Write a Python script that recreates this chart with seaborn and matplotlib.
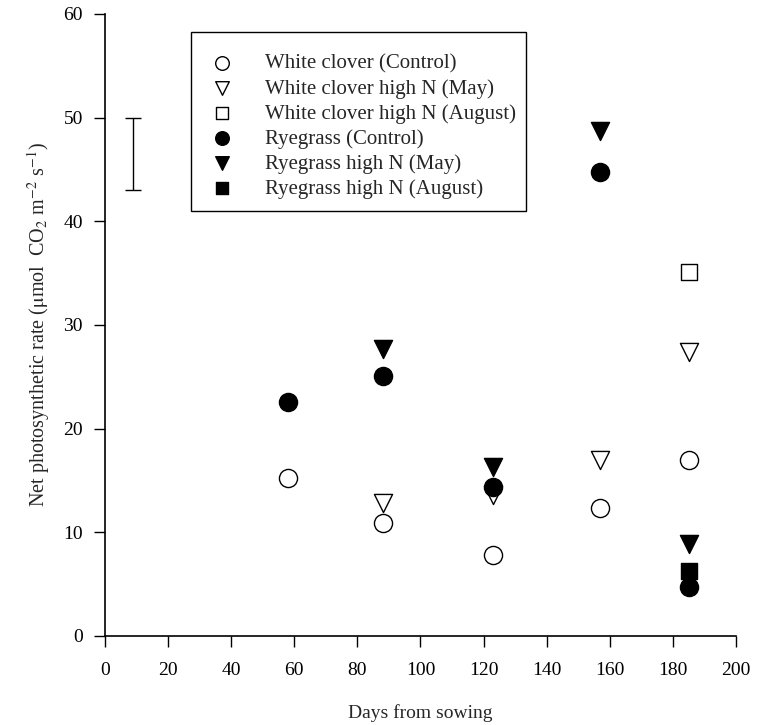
import numpy as np
import pandas as pd
import matplotlib
matplotlib.use("Agg")
import matplotlib.pyplot as plt
from matplotlib.patches import Rectangle
import seaborn as sns

# values
wc_ctrl_x = [58, 88, 123, 157, 185]
wc_ctrl_y = [15.2, 10.9, 7.8, 12.3, 17.0]
wc_may_x = [88, 123, 157, 185]
wc_may_y = [12.8, 13.6, 17.0, 27.4]
wc_aug_x = [185]
wc_aug_y = [35.1]
rg_ctrl_x = [58, 88, 123, 157, 185]
rg_ctrl_y = [22.6, 25.1, 14.4, 44.8, 4.7]
rg_may_x = [88, 123, 157, 185]
rg_may_y = [27.7, 16.3, 48.7, 8.9]
rg_aug_x = [185]
rg_aug_y = [6.3]

lsd_x = 9
lsd_lo, lsd_hi = 43, 50

series = [
    ("White clover (Control)", wc_ctrl_x, wc_ctrl_y, "o", "white", 170),
    ("White clover high N (May)", wc_may_x, wc_may_y, "v", "white", 170),
    ("White clover high N (August)", wc_aug_x, wc_aug_y, "s", "white", 130),
    ("Ryegrass (Control)", rg_ctrl_x, rg_ctrl_y, "o", "black", 170),
    ("Ryegrass high N (May)", rg_may_x, rg_may_y, "v", "black", 170),
    ("Ryegrass high N (August)", rg_aug_x, rg_aug_y, "s", "black", 130),
]

sns.set_style("ticks")
plt.rcParams["font.family"] = ["Liberation Serif", "DejaVu Serif"]
plt.rcParams["mathtext.fontset"] = "stix"

fig = plt.figure(figsize=(7.64, 7.25), dpi=100)
ax = fig.add_axes([0.1374, 0.1228, 0.8259, 0.858])

for name, xs, ys, mk, fc, sz in series:
    df = pd.DataFrame({"x": xs, "y": ys})
    sns.scatterplot(data=df, x="x", y="y", marker=mk, s=sz, color=fc,
                    edgecolor="black", linewidth=1.0, ax=ax, label=name,
                    zorder=3, clip_on=False)

ax.errorbar([lsd_x], [(lsd_lo + lsd_hi) / 2], yerr=[(lsd_hi - lsd_lo) / 2],
            fmt="none", ecolor="black", elinewidth=1.0, capsize=5.5, capthick=1.0)

ax.set_xlim(0, 200)
ax.set_ylim(0, 60)
ax.set_xticks(np.arange(0, 201, 20))
ax.set_yticks(np.arange(0, 61, 10))
ax.tick_params(axis="both", direction="out", length=8, width=1.0,
               labelsize=14, colors="black")
ax.tick_params(axis="x", pad=11)
ax.tick_params(axis="y", pad=8)
sns.despine(ax=ax)
for sp in ["left", "bottom"]:
    ax.spines[sp].set_linewidth(1.2)
    ax.spines[sp].set_color("black")

ax.set_xlabel("Days from sowing", fontsize=14, labelpad=18)
ax.set_ylabel(r"Net photosynthetic rate ($\mathrm{\mu}$mol  CO$_2$ m$^{-2}$ s$^{-1}$)",
              fontsize=14.5, labelpad=8)

leg = ax.legend(loc="upper left", bbox_to_anchor=(0.152, 0.935), fontsize=15,
                frameon=False, handletextpad=1.1, labelspacing=0.25,
                markerscale=0.75, borderaxespad=0, borderpad=0)
# legend box has extra room, draw it as a separate frame
ax.add_patch(Rectangle((0.1363, 0.683), 0.531, 0.2878, transform=ax.transAxes,
                       fill=False, edgecolor="black", linewidth=1.0, zorder=4))

fig.savefig("out.png", dpi=100)
